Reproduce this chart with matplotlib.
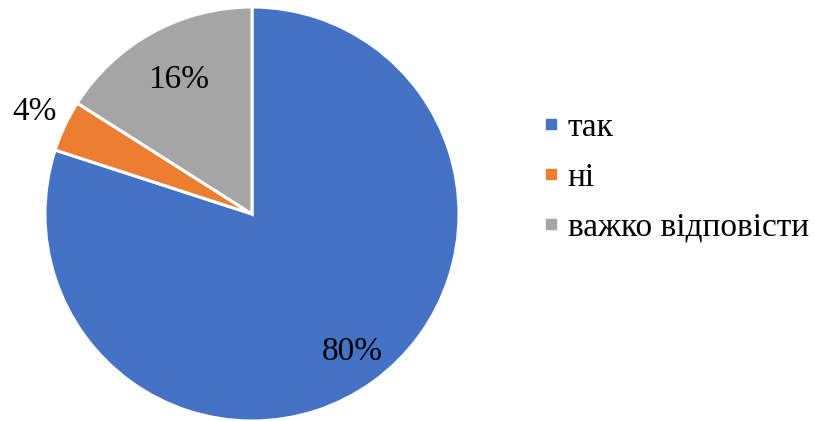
import numpy as np
import matplotlib.pyplot as plt
from matplotlib.lines import Line2D

labels = ['так', 'ні', 'важко відповісти']
values = [80, 4, 16]
colors = ['#4472C4', '#ED7D31', '#A5A5A5']

plt.rcParams['font.family'] = ['Liberation Serif', 'DejaVu Serif']

fig = plt.figure(figsize=(8.14, 4.21), dpi=100)
cx, cy, r = 252, 214, 207
ax = fig.add_axes([(cx - r) / 814, (421 - cy - r) / 421, 2 * r / 814, 2 * r / 421])

wedges, texts, autotexts = ax.pie(values, colors=colors, startangle=90, counterclock=False,
                                  autopct='%d%%', wedgeprops=dict(edgecolor='white', linewidth=2.2),
                                  textprops=dict(fontsize=24, color='black'))
ax.set_xlim(-1, 1)
ax.set_ylim(-1, 1)

# label distances
dists = [0.82, 1.16, 0.74]
for w, t, d in zip(wedges, autotexts, dists):
    ang = np.deg2rad((w.theta1 + w.theta2) / 2)
    t.set_position((d * np.cos(ang), d * np.sin(ang)))

handles = [Line2D([], [], marker='s', linestyle='none', markersize=7,
                  markerfacecolor=c, markeredgecolor=c) for c in colors]
fig.legend(handles, labels, loc='center left', bbox_to_anchor=(0.646, 0.578),
           frameon=False, fontsize=24, handletextpad=0.15, labelspacing=0.58,
           handlelength=0.7, borderaxespad=0)

fig.savefig('out.png', dpi=100)
